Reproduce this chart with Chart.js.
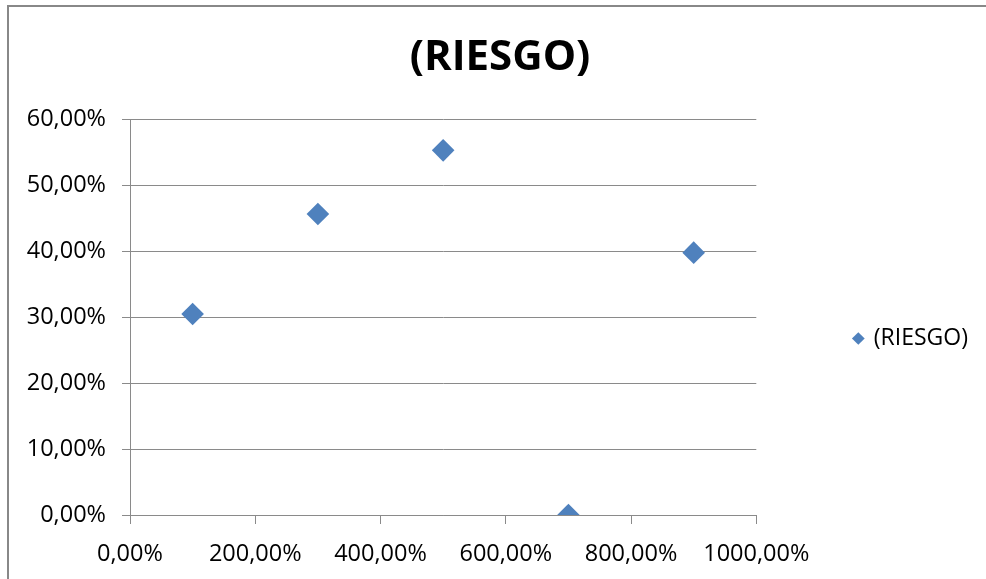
<!DOCTYPE html>
<html>
<head>
<meta charset="utf-8">
<script src="https://cdn.jsdelivr.net/npm/chart.js@4/dist/chart.umd.min.js"></script>
<style>
  html, body { margin: 0; padding: 0; background: #fff; }
  #wrap { position: relative; width: 986px; height: 579px; overflow: hidden; }
  #frame { position: absolute; left: 7px; top: 5px; width: 1000px; height: 600px; border-left: 2px solid #888; border-top: 2px solid #888; box-sizing: border-box; }
  canvas { position: absolute; left: 0; top: 0; }
</style>
</head>
<body>
<div id="wrap">
  <div id="frame"></div>
  <canvas id="c" width="986" height="579"></canvas>
</div>
<script>
const chartTitle = '(RIESGO)';
const seriesName = '(RIESGO)';
const xValues = [100, 300, 500, 700, 900];          // percent
const yValues = [30.45, 45.6, 55.25, 0, 39.75];     // percent
const xTicks = [0, 200, 400, 600, 800, 1000];
const yTicks = [0, 10, 20, 30, 40, 50, 60];

const fmt = v => v.toFixed(2).replace('.', ',') + '%';
const FONT = "'Open Sans', 'Liberation Sans', sans-serif";
const GRID = '#8a8a8a';

const legendShift = {
  id: 'legendShift',
  afterLayout(chart) {
    const lg = chart.legend;
    if (lg) { lg.top += 44; lg.bottom += 44; }
  }
};

new Chart(document.getElementById('c'), {
  type: 'scatter',
  data: {
    datasets: [{
      label: seriesName,
      data: xValues.map((x, i) => ({ x: x, y: yValues[i] })),
      pointStyle: 'rectRot',
      pointRadius: 11.3,
      pointHoverRadius: 11.3,
      backgroundColor: '#4F81BD',
      borderColor: '#4F81BD',
      borderWidth: 0
    }]
  },
  options: {
    responsive: false,
    animation: false,
    devicePixelRatio: 1,
    layout: { padding: { top: 10, left: 22, right: 8, bottom: 0 } },
    plugins: {
      title: {
        display: true,
        text: chartTitle,
        color: '#000',
        font: { family: FONT, size: 42, weight: 'bold', lineHeight: 1.2 },
        padding: { top: 23, bottom: 35.6 }
      },
      legend: {
        display: true,
        position: 'right',
        labels: {
          usePointStyle: true,
          pointStyle: 'rectRot',
          boxWidth: 8,
          boxHeight: 9,
          padding: 98,
          color: '#000',
          font: { family: FONT, size: 23 }
        }
      },
      tooltip: { enabled: false }
    },
    scales: {
      x: {
        type: 'linear',
        min: 0, max: 1000,
        afterBuildTicks: s => { s.ticks = xTicks.map(v => ({ value: v })); },
        afterFit: s => { s.height = 579 - 515; },
        ticks: {
          callback: v => fmt(v),
          color: '#000',
          padding: 16,
          maxRotation: 0,
          autoSkip: false,
          font: { family: FONT, size: 23.5 }
        },
        grid: { drawOnChartArea: false, drawTicks: true, tickLength: 9, color: GRID },
        border: { display: true, color: GRID, width: 1 }
      },
      y: {
        type: 'linear',
        min: 0, max: 60,
        afterBuildTicks: s => { s.ticks = yTicks.map(v => ({ value: v })); },
        afterFit: s => { s.width = 130 - 22; },
        ticks: {
          callback: v => fmt(v),
          color: '#000',
          padding: 16,
          autoSkip: false,
          font: { family: FONT, size: 23.5 }
        },
        grid: { drawOnChartArea: true, drawTicks: true, tickLength: 8, color: GRID },
        border: { display: true, color: GRID, width: 1 }
      }
    }
  },
  plugins: [legendShift]
});
</script>
</body>
</html>
